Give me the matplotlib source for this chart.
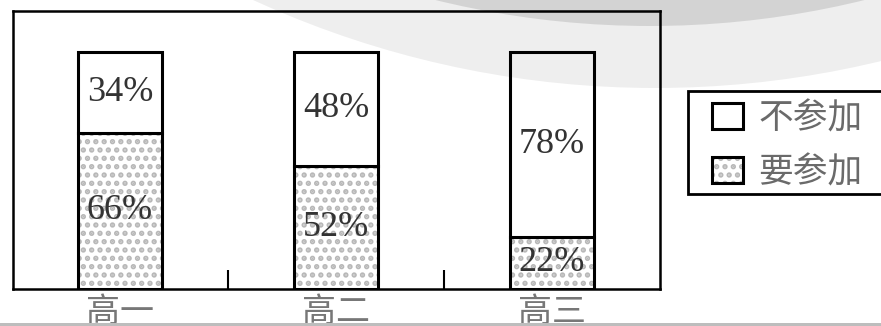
import matplotlib
matplotlib.use('Agg')
import matplotlib.pyplot as plt
from matplotlib.patches import Circle, Rectangle
from matplotlib.transforms import IdentityTransform

grades = ['高一', '高二', '高三']
join_pct = [66, 52, 22]    # 要参加
skip_pct = [34, 48, 78]    # 不参加
legend_labels = ['不参加', '要参加']

plt.rcParams['font.family'] = ['Noto Sans CJK SC', 'DejaVu Sans']
plt.rcParams['hatch.linewidth'] = 2.6

fig = plt.figure(figsize=(8.81, 3.26), dpi=100)
ax = fig.add_axes([13/881, 37/326, 647/881, 278/326])
ax.set_facecolor('none')

x = list(range(len(grades)))
w = 0.385
dots = ax.bar(x, join_pct, w, color='white', edgecolor='#b8b8b8', linewidth=0, hatch='..')
lower = ax.bar(x, join_pct, w, fill=False, edgecolor='black', linewidth=2.2)
upper = ax.bar(x, skip_pct, w, bottom=join_pct, color='white', edgecolor='black', linewidth=2.2)

for i in x:
    ax.text(i, join_pct[i] / 2, f'{join_pct[i]}%', ha='center', va='center',
            family='Liberation Serif', fontsize=26, color='#333333')
    ax.text(i, join_pct[i] + skip_pct[i] / 2, f'{skip_pct[i]}%', ha='center', va='center',
            family='Liberation Serif', fontsize=26, color='#333333')

ax.set_xlim(-0.495, 2.5)
ax.set_ylim(0, 117.3)
for s in ax.spines.values():
    s.set_linewidth(1.8)

ax.set_yticks([])
ax.set_xticks([0.5, 1.5])
ax.set_xticklabels([])
ax.tick_params(axis='x', which='major', direction='in', length=14, width=1.5)
ax.set_xticks(x, labels=grades, minor=True)
ax.tick_params(axis='x', which='minor', length=0, pad=4.5, labelsize=24.5, labelcolor='#777777')

# legend: frame drawn separately because it runs off the right edge
leg = fig.legend([upper[0], (dots[0], lower[0])], legend_labels,
                 loc='upper left', bbox_to_anchor=(712/881, 225/326),
                 fontsize=25, frameon=False, borderaxespad=0, borderpad=0,
                 handlelength=0.88, handleheight=0.8,
                 handletextpad=0.45, labelspacing=0.55)
for t in leg.get_texts():
    t.set_color('#6a6a6a')
fig.patches.append(Rectangle((688, 132), 215, 103, transform=IdentityTransform(),
                             facecolor='white', edgecolor='black', linewidth=2, zorder=4))

# faint watermark rings at the top and grey edge line at the bottom
fig.patches.append(Circle((655, 1200), 962, transform=IdentityTransform(),
                          facecolor='black', edgecolor='none', alpha=0.065, zorder=10))
fig.patches.append(Circle((650, 1200), 900, transform=IdentityTransform(),
                          facecolor='black', edgecolor='none', alpha=0.11, zorder=10))
fig.patches.append(Rectangle((0, 0), 881, 3, transform=IdentityTransform(),
                             facecolor='#bdbdbd', edgecolor='none', zorder=11))

fig.savefig('out.png')
